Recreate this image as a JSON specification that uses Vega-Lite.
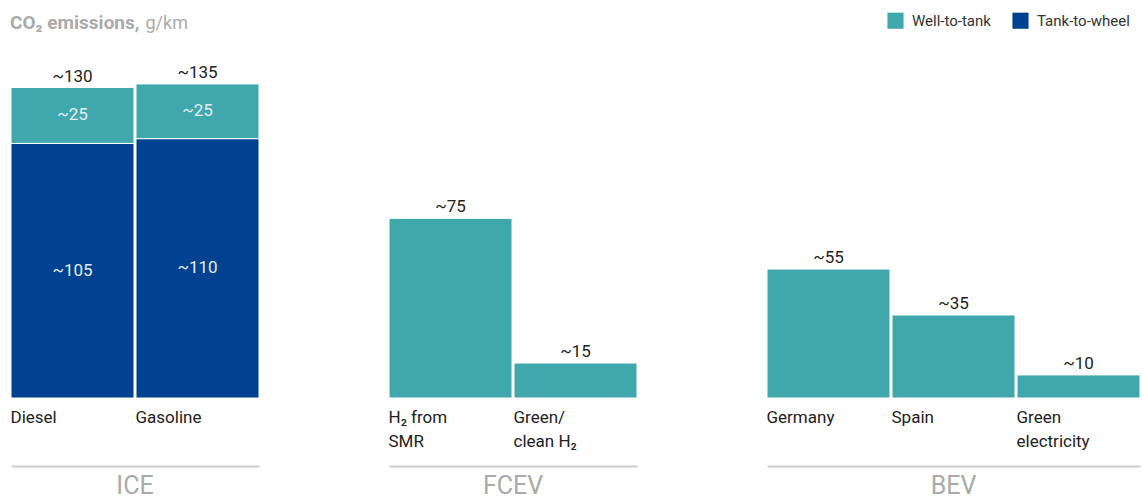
{
  "$schema": "https://vega.github.io/schema/vega-lite/v6.json",
  "padding": {"left": 10, "top": 12, "right": 0, "bottom": 0},
  "background": "white",
  "config": {
    "font": "Roboto",
    "view": {"stroke": null},
    "axis": {"grid": false},
    "title": {"fontSize": 19, "fontWeight": "bold", "color": "#aaaaaa", "font": "Roboto"}
  },
  "title": {
    "text": "CO₂ emissions,",
    "anchor": "start",
    "orient": "top",
    "offset": -21,
    "fontSize": 19,
    "fontWeight": "bold",
    "color": "#aaaaaa",
    "font": "Roboto"
  },
  "data": {
    "values": [
      {"group": "ICE", "cat": "Diesel", "xo": 1, "series": "Tank-to-wheel", "ord": 0, "value": 107, "inner": "~105"},
      {"group": "ICE", "cat": "Diesel", "xo": 1, "series": "Well-to-tank", "ord": 1, "value": 23.5, "inner": "~25", "total": "~130"},
      {"group": "ICE", "cat": "Gasoline", "xo": 2, "series": "Tank-to-wheel", "ord": 0, "value": 109, "inner": "~110"},
      {"group": "ICE", "cat": "Gasoline", "xo": 2, "series": "Well-to-tank", "ord": 1, "value": 23, "inner": "~25", "total": "~135"},
      {"group": "FCEV", "cat": "H₂ from|SMR", "xo": 3, "series": "Well-to-tank", "ord": 1, "value": 75.5, "total": "~75"},
      {"group": "FCEV", "cat": "Green/|clean H₂", "xo": 4, "series": "Well-to-tank", "ord": 1, "value": 14.7, "total": "~15"},
      {"group": "BEV", "cat": "Germany", "xo": 5, "series": "Well-to-tank", "ord": 1, "value": 54.2, "total": "~55"},
      {"group": "BEV", "cat": "Spain", "xo": 6, "series": "Well-to-tank", "ord": 1, "value": 34.9, "total": "~35"},
      {"group": "BEV", "cat": "Green|electricity", "xo": 7, "series": "Well-to-tank", "ord": 1, "value": 9.7, "total": "~10"}
    ]
  },
  "transform": [
    {"stack": "value", "groupby": ["group", "cat"], "sort": [{"field": "ord"}], "as": ["y0", "y1"]},
    {"calculate": "(datum.y0 + datum.y1) / 2", "as": "mid"}
  ],
  "facet": {
    "column": {
      "field": "group",
      "sort": ["ICE", "FCEV", "BEV"],
      "title": null,
      "header": {
        "labelOrient": "bottom",
        "labelFontSize": 25,
        "labelColor": "#aaaaaa",
        "labelFont": "Roboto",
        "labelPadding": 8
      }
    }
  },
  "spacing": 128,
  "resolve": {"scale": {"x": "independent"}},
  "spec": {
    "width": {"step": 125},
    "height": 345,
    "layer": [
      {
        "mark": {"type": "bar", "stroke": "white", "strokeWidth": 1},
        "encoding": {
          "x": {
            "field": "cat",
            "type": "nominal",
            "sort": {"field": "xo", "op": "min"},
            "scale": {"paddingInner": 0.016, "paddingOuter": 0},
            "axis": {
              "title": null,
              "orient": "bottom",
              "offset": 68,
              "domainColor": "#cccccc",
              "domainWidth": 2,
              "ticks": false,
              "tickSize": 0,
              "labelPadding": -57,
              "labelAlign": "left",
              "labelBaseline": "top",
              "labelOffset": -62,
              "labelFontSize": 17,
              "labelColor": "#222222",
              "labelFont": "Roboto",
              "labelLineHeight": 24,
              "labelExpr": "split(datum.label, '|')",
              "labelFlush": false,
              "labelOverlap": false,
              "labelBound": false,
              "labelAngle": 0
            }
          },
          "y": {
            "field": "y0",
            "type": "quantitative",
            "scale": {"domain": [0, 145], "nice": false},
            "axis": {
              "orient": "left",
              "domain": false,
              "ticks": false,
              "labels": false,
              "grid": false,
              "title": "g/km",
              "titleAngle": 0,
              "titleAlign": "left",
              "titleBaseline": "bottom",
              "titleX": 135,
              "titleY": -21,
              "titleFontWeight": "normal",
              "titleColor": "#aaaaaa",
              "titleFontSize": 18,
              "titleFont": "Roboto"
            }
          },
          "y2": {"field": "y1"},
          "color": {
            "field": "series",
            "type": "nominal",
            "scale": {"domain": ["Well-to-tank", "Tank-to-wheel"], "range": ["#40a8ac", "#00428f"]},
            "legend": {
              "title": null,
              "orient": "none",
              "legendX": 876,
              "legendY": -41,
              "direction": "horizontal",
              "symbolType": "square",
              "symbolSize": 260,
              "symbolStrokeWidth": 0,
              "labelFontSize": 15,
              "labelColor": "#333333",
              "labelFont": "Roboto",
              "labelOffset": 8,
              "columnPadding": 21
            }
          }
        }
      },
      {
        "transform": [{"filter": "datum.inner != null"}],
        "mark": {"type": "text", "color": "#e4edf5", "fontSize": 17, "baseline": "middle"},
        "encoding": {
          "x": {"field": "cat", "type": "nominal", "sort": {"field": "xo", "op": "min"}},
          "y": {"field": "mid", "type": "quantitative"},
          "text": {"field": "inner"}
        }
      },
      {
        "transform": [{"filter": "datum.total != null"}],
        "mark": {"type": "text", "color": "#222222", "fontSize": 17, "baseline": "alphabetic", "dy": -6},
        "encoding": {
          "x": {"field": "cat", "type": "nominal", "sort": {"field": "xo", "op": "min"}},
          "y": {"field": "y1", "type": "quantitative"},
          "text": {"field": "total"}
        }
      }
    ]
  }
}
